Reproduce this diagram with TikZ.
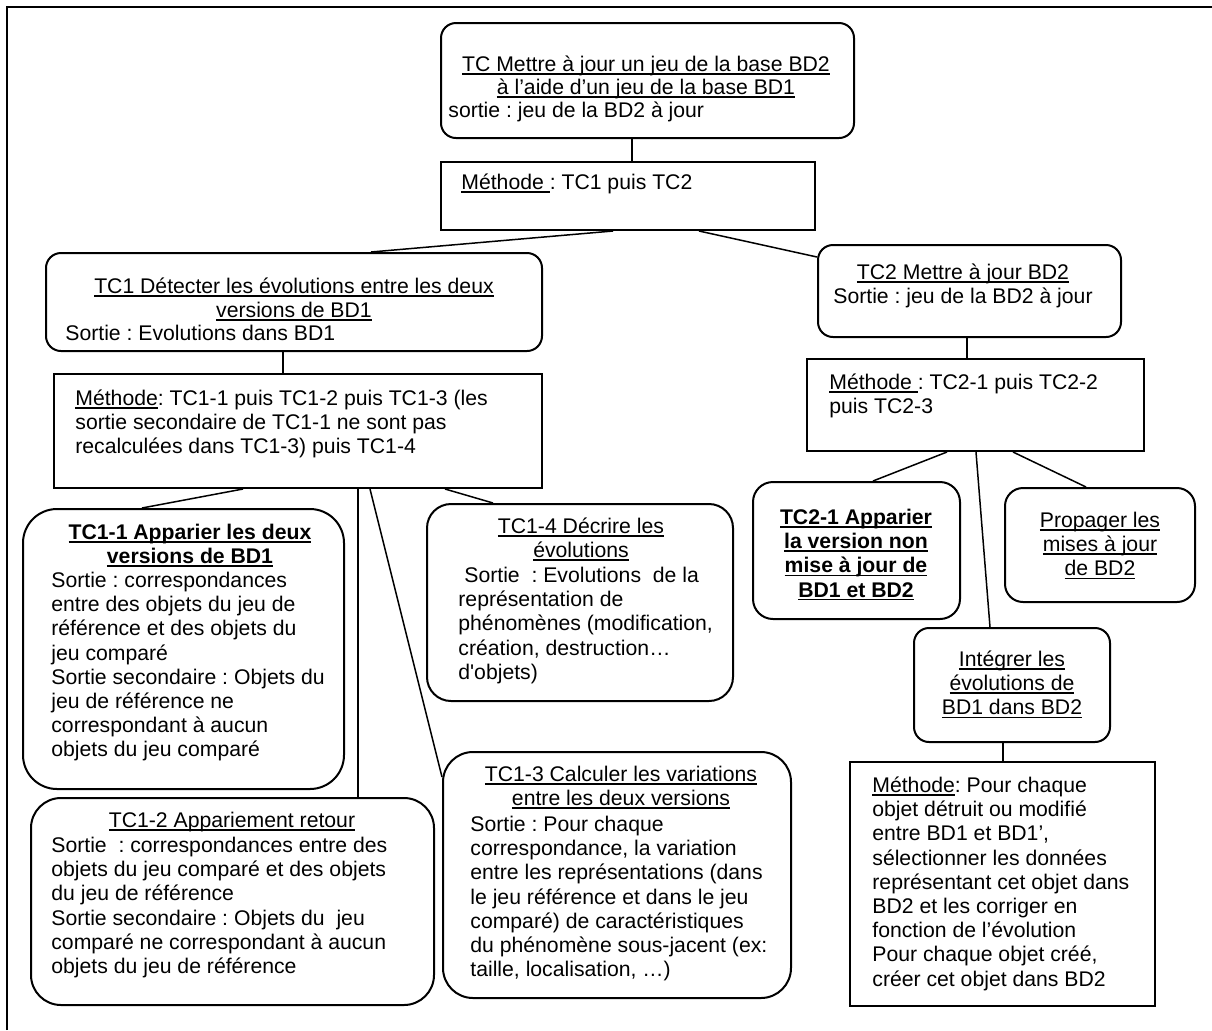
\documentclass[tikz,border=0pt]{standalone}
\usepackage{fontspec}
\setmainfont{Liberation Sans}
\usetikzlibrary{fit}
\newcommand\ulx[1]{\setbox0\hbox{#1}\rlap{\rule[-1.6pt]{\wd0}{0.7pt}}\box0}
\newcommand\fstrut{\rule{0pt}{9pt}}
\newcommand\sq{{\addfontfeatures{Ligatures=TeXOff}'}}
\begin{document}
\begin{tikzpicture}[x=0.5pt,y=-0.5pt,
  box/.style={draw,line width=1pt,inner sep=0pt},
  rbox/.style={box,rounded corners=#1},
  conn/.style={line width=0.75pt},
  txt/.style={inner sep=0pt,font=\fontsize{10.6}{12.1}\selectfont\frenchspacing},
  lft/.style={txt,align=left,anchor=north west},
  ctr/.style={txt,align=center,anchor=north},
  bctr/.style={ctr,font=\fontsize{10.6}{12.1}\selectfont\frenchspacing\bfseries}]
\useasboundingbox (0,0) rectangle (1212,1030);
% frame
\draw[line width=1pt] (7,1030) -- (7,7) -- (1212,7);
% boxes
\node[rbox=7.5pt, fit={(441,23) (854,138)}] (a) {};
\node[box, fit={(441,162) (815,230)}] (m0) {};
\node[rbox=7.5pt, fit={(46,253) (542,351)}] (tc1) {};
\node[box, fit={(54,374) (542,488)}] (m1) {};
\node[rbox=7.5pt, fit={(818,245) (1121,337)}] (tc2) {};
\node[box, fit={(807,359) (1144,451)}] (m2) {};
\node[rbox=17pt, fit={(23,509) (344,789)}] (tc11) {};
\node[rbox=15pt, fit={(31,798) (434,1005)}] (tc12) {};
\node[rbox=15pt, fit={(443,752) (791,998)}] (tc13) {};
\node[rbox=12pt, fit={(427,504) (733,701)}] (tc14) {};
\node[rbox=10pt, fit={(753,482) (960,619)}] (tc21) {};
\node[rbox=9pt, fit={(1005,488) (1195,602)}] (prop) {};
\node[rbox=7.5pt, fit={(914,628) (1110,742)}] (integ) {};
\node[box, fit={(850,762) (1155,1006)}] (m3) {};
% connectors
\draw[conn] (a.south -| 632,0) -- (m0.north -| 632,0);
\draw[conn] (m0.south -| 613,0) -- (tc1.north -| 371,0);
\draw[conn] (m0.south -| 699,0) -- (tc2.west |- 0,257);
\draw[conn] (tc1.south -| 283,0) -- (m1.north -| 283,0);
\draw[conn] (m1.south -| 243,0) -- (tc11.north -| 142,0);
\draw[conn] (m1.south -| 358,0) -- (tc12.north -| 358,0);
\draw[conn] (m1.south -| 370,0) -- (tc13.west |- 0,777);
\draw[conn] (m1.south -| 445,0) -- (tc14.north -| 493,0);
\draw[conn] (tc2.south -| 967,0) -- (m2.north -| 967,0);
\draw[conn] (m2.south -| 947,0) -- (tc21.north -| 873,0);
\draw[conn] (m2.south -| 976,0) -- (integ.north -| 990,0);
\draw[conn] (m2.south -| 1013,0) -- (prop.north -| 1086,0);
\draw[conn] (integ.south -| 1003,0) -- (m3.north -| 1003,0);
% texts
\node[ctr,font=\fontsize{10.6}{11.5}\selectfont\frenchspacing] (a-t) at (646,53) {\fstrut\ulx{TC Mettre à jour un jeu de la base BD2}\\\ulx{à l’aide d’un jeu de la base BD1}};
\node[lft] (a-b) at (448,99) {\fstrut sortie : jeu de la BD2 à jour};
\node[lft] (m0-t) at (461,171) {\fstrut\ulx{Méthode }: TC1 puis TC2};
\node[ctr] (tc1-t) at (294,275) {\fstrut\ulx{TC1 Détecter les évolutions entre les deux}\\\ulx{versions de BD1}};
\node[lft] (tc1-b) at (65,322) {\fstrut Sortie : Evolutions dans BD1};
\node[lft] (m1-t) at (75,387) {\fstrut\ulx{Méthode} : TC1-1 puis TC1-2 puis TC1-3 (les\\sortie secondaire de TC1-1 ne sont pas\\recalculées dans TC1-3) puis TC1-4};
\node[ctr] (tc2-t) at (963,261) {\fstrut\ulx{TC2 Mettre à jour BD2}\\Sortie : jeu de la BD2 à jour};
\node[lft] (m2-t) at (829,371) {\fstrut\ulx{Méthode }: TC2-1 puis TC2-2\\puis TC2-3};
\node[bctr] (tc11-t) at (190,521) {\fstrut\ulx{TC1-1 Apparier les deux}\\\ulx{versions de BD1}};
\node[lft] (tc11-b) at (51,569) {\fstrut Sortie : correspondances\\entre des objets du jeu de\\référence et des objets du\\jeu comparé\\Sortie secondaire : Objets du\\jeu de référence ne\\correspondant à aucun\\objets du jeu comparé};
\node[ctr] (tc12-t) at (232,809) {\fstrut\ulx{TC1-2 Appariement retour}};
\node[lft] (tc12-b) at (51,834) {\fstrut Sortie\ \ : correspondances entre des\\objets du jeu comparé et des objets\\du jeu de référence\\Sortie secondaire : Objets du\ \ jeu\\comparé ne correspondant à aucun\\objets du jeu de référence};
\node[ctr] (tc13-t) at (621,763) {\fstrut\ulx{TC1-3 Calculer les variations}\\\ulx{entre les deux versions}};
\node[lft] (tc13-b) at (470,813) {\fstrut Sortie : Pour chaque\\correspondance, la variation\\entre les représentations (dans\\le jeu référence et dans le jeu\\comparé) de caractéristiques\\du phénomène sous-jacent (ex:\\taille, localisation, …)};
\node[ctr] (tc14-t) at (581,515) {\fstrut\ulx{TC1-4 Décrire les}\\\ulx{évolutions}};
\node[lft] (tc14-b) at (458,564) {\fstrut\hspace{3pt}Sortie\ \ : Evolutions\ \ de la\\représentation de\\phénomènes (modification,\\création, destruction…\\d\sq objets)};
\node[bctr] (tc21-t) at (856,506) {\fstrut\ulx{TC2-1 Apparier}\\\ulx{la version non}\\\ulx{mise à jour de}\\\ulx{BD1 et BD2}};
\node[ctr] (prop-t) at (1100,509) {\fstrut\ulx{Propager les}\\\ulx{mises à jour}\\\ulx{de BD2}};
\node[ctr] (integ-t) at (1012,648) {\fstrut\ulx{Intégrer les}\\\ulx{évolutions de}\\\ulx{BD1 dans BD2}};
\node[lft] (m3-t) at (872,774) {\fstrut\ulx{Méthode} : Pour chaque\\objet détruit ou modifié\\entre BD1 et BD1’,\\sélectionner les données\\représentant cet objet dans\\BD2 et les corriger en\\fonction de l’évolution\\Pour chaque objet créé,\\créer cet objet dans BD2};
\end{tikzpicture}
\end{document}
